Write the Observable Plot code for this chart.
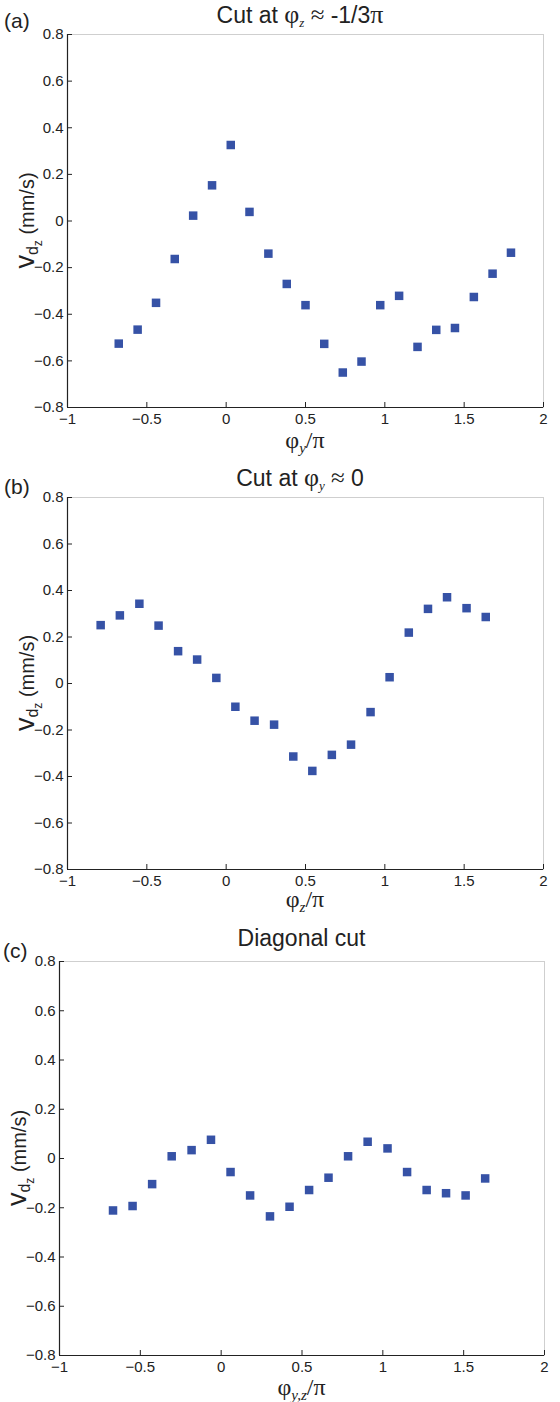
<!DOCTYPE html>
<html><head><meta charset="utf-8">
<script src="https://cdn.jsdelivr.net/npm/d3@7"></script>
<script src="https://cdn.jsdelivr.net/npm/@observablehq/plot@0.6"></script>
<style>
body{margin:0;background:#fff;}
#root{width:560px;}
svg{display:block;}
</style></head><body><div id="root"></div>
<script>
// ---- data ----
const xTicks = [-1, -0.5, 0, 0.5, 1, 1.5, 2];
const yTicks = [-0.8, -0.6, -0.4, -0.2, 0, 0.2, 0.4, 0.6, 0.8];

const phiA = [-0.677,-0.558,-0.442,-0.324,-0.208,-0.089,0.029,0.147,0.266,0.382,0.500,0.618,0.735,0.853,0.971,1.090,1.206,1.324,1.442,1.561,1.679,1.795];
const vA   = [-0.526,-0.466,-0.351,-0.163,0.023,0.153,0.326,0.039,-0.140,-0.270,-0.361,-0.527,-0.650,-0.603,-0.361,-0.321,-0.540,-0.467,-0.459,-0.326,-0.226,-0.136];

const phiB = [-0.791,-0.670,-0.547,-0.426,-0.303,-0.183,-0.062,0.058,0.179,0.302,0.423,0.543,0.666,0.787,0.910,1.030,1.151,1.272,1.392,1.515,1.636];
const vB   = [0.251,0.293,0.343,0.249,0.139,0.103,0.024,-0.100,-0.160,-0.177,-0.314,-0.376,-0.307,-0.263,-0.123,0.027,0.219,0.321,0.371,0.324,0.286];

const phiC = [-0.669,-0.548,-0.427,-0.306,-0.183,-0.063,0.058,0.179,0.302,0.423,0.544,0.664,0.785,0.906,1.029,1.150,1.271,1.391,1.512,1.633];
const vC   = [-0.211,-0.193,-0.104,0.009,0.034,0.076,-0.055,-0.150,-0.235,-0.196,-0.128,-0.078,0.009,0.068,0.041,-0.055,-0.128,-0.141,-0.150,-0.081];

const panelLetters = ["(a)", "(b)", "(c)"];

// ---- drawing ----
const SANS = "'Liberation Sans', Arial, Helvetica, sans-serif";
const SERIF = "'Liberation Serif', 'Times New Roman', serif";
const INK = "#222";
const fmt = d => String(d).replace("-", "\u2212");

function addRich(parent, parts) {
  parts.forEach(p => {
    const ts = parent.append("tspan").text(p.t);
    if (p.serif) ts.attr("font-family", SERIF);
    if (p.italic) ts.attr("font-style", "italic");
    if (p.size) ts.attr("font-size", p.size);
    if (p.dy) ts.attr("dy", p.dy);
  });
}

function panel(cfg) {
  const {xs, ys, height, mt, mb, ml, mr, letter, letterX, letterY, title, titleY, titleShift, xlabel, xlabelY, ylabelX} = cfg;
  const data = xs.map((d, i) => ({x: d, y: ys[i]}));
  const pw = 560 - ml - mr, ph = height - mt - mb;
  const chart = Plot.plot({
    width: 560, height,
    marginTop: mt, marginBottom: mb, marginLeft: ml, marginRight: mr,
    style: {fontFamily: SANS, fontSize: "15px", color: INK, background: "#fff", overflow: "visible"},
    x: {domain: [-1, 2]},
    y: {domain: [-0.8, 0.8]},
    marks: [
      Plot.frame({stroke: "#cfcfcf"}),
      Plot.axisX(xTicks, {tickSize: 0, tickPadding: 6, tickFormat: fmt, label: null, fontSize: 15, fill: INK}),
      Plot.axisY(yTicks, {tickSize: 0, tickPadding: 4, tickFormat: fmt, label: null, fontSize: 15, fill: INK}),
      Plot.tickX(xTicks, {x: d => d, insetTop: ph - 5, stroke: INK}),
      Plot.tickY(yTicks, {y: d => d, insetRight: pw - 5, stroke: INK}),
      Plot.ruleY([-0.8], {stroke: INK, strokeWidth: 1.2}),
      Plot.ruleX([-1], {stroke: INK, strokeWidth: 1.2}),
      Plot.dot(data, {x: "x", y: "y", symbol: "square", r: 4.8, fill: "#3652a6", stroke: "none"})
    ]
  });
  const svg = d3.select(chart);
  // panel letter
  svg.append("text").attr("x", letterX).attr("y", letterY).attr("text-anchor", "start")
    .attr("font-family", SANS).attr("font-size", 21).attr("fill", INK).text(letter);
  // title
  const t = svg.append("text").attr("x", ml + pw / 2 + titleShift).attr("y", titleY)
    .attr("text-anchor", "middle").attr("font-family", SANS).attr("font-size", 23).attr("fill", INK);
  addRich(t, title);
  // x label
  const xl = svg.append("text").attr("x", ml + pw / 2).attr("y", xlabelY)
    .attr("text-anchor", "middle").attr("font-family", SERIF).attr("font-size", 24).attr("fill", INK);
  addRich(xl, xlabel);
  // y label
  const yl = svg.append("text")
    .attr("transform", `translate(${ylabelX},${mt + ph / 2}) rotate(-90)`)
    .attr("text-anchor", "middle").attr("font-family", SANS).attr("font-size", 20).attr("fill", INK);
  addRich(yl, [
    {t: "v", size: 27},
    {t: "d", size: 16, dy: 4},
    {t: "z", size: 12, dy: 4},
    {t: " (mm/s)", size: 20, dy: -8}
  ]);
  document.getElementById("root").appendChild(chart);
}

panel({
  xs: phiA, ys: vA, height: 455, mt: 34, mb: 48, ml: 67, mr: 17,
  letter: panelLetters[0], letterX: 4, letterY: 28,
  title: [{t: "Cut at "}, {t: "\u03c6", serif: true, size: 26}, {t: "z", serif: true, italic: true, size: 13, dy: 4}, {t: " \u2248 ", serif: true, size: 25, dy: -4}, {t: "-1/3"}, {t: "\u03c0", serif: true, size: 26}],
  titleY: 23, titleShift: -5,
  xlabel: [{t: "\u03c6"}, {t: "y", italic: true, size: 15, dy: 5}, {t: "/\u03c0", dy: -5}],
  xlabelY: 448, ylabelX: 34
});
panel({
  xs: phiB, ys: vB, height: 460, mt: 42, mb: 46, ml: 67, mr: 17,
  letter: panelLetters[1], letterX: 4, letterY: 39,
  title: [{t: "Cut at "}, {t: "\u03c6", serif: true, size: 26}, {t: "y", serif: true, italic: true, size: 13, dy: 4}, {t: " \u2248 ", serif: true, size: 25, dy: -4}, {t: "0"}],
  titleY: 31, titleShift: -5,
  xlabel: [{t: "\u03c6"}, {t: "z", italic: true, size: 15, dy: 5}, {t: "/\u03c0", dy: -5}],
  xlabelY: 452, ylabelX: 34
});
panel({
  xs: phiC, ys: vC, height: 487, mt: 46, mb: 47, ml: 59, mr: 16,
  letter: panelLetters[2], letterX: 3, letterY: 43,
  title: [{t: "Diagonal cut"}],
  titleY: 31, titleShift: 0,
  xlabel: [{t: "\u03c6"}, {t: "y,z", italic: true, size: 15, dy: 5}, {t: "/\u03c0", dy: -5}],
  xlabelY: 480, ylabelX: 26
});
</script></body></html>
